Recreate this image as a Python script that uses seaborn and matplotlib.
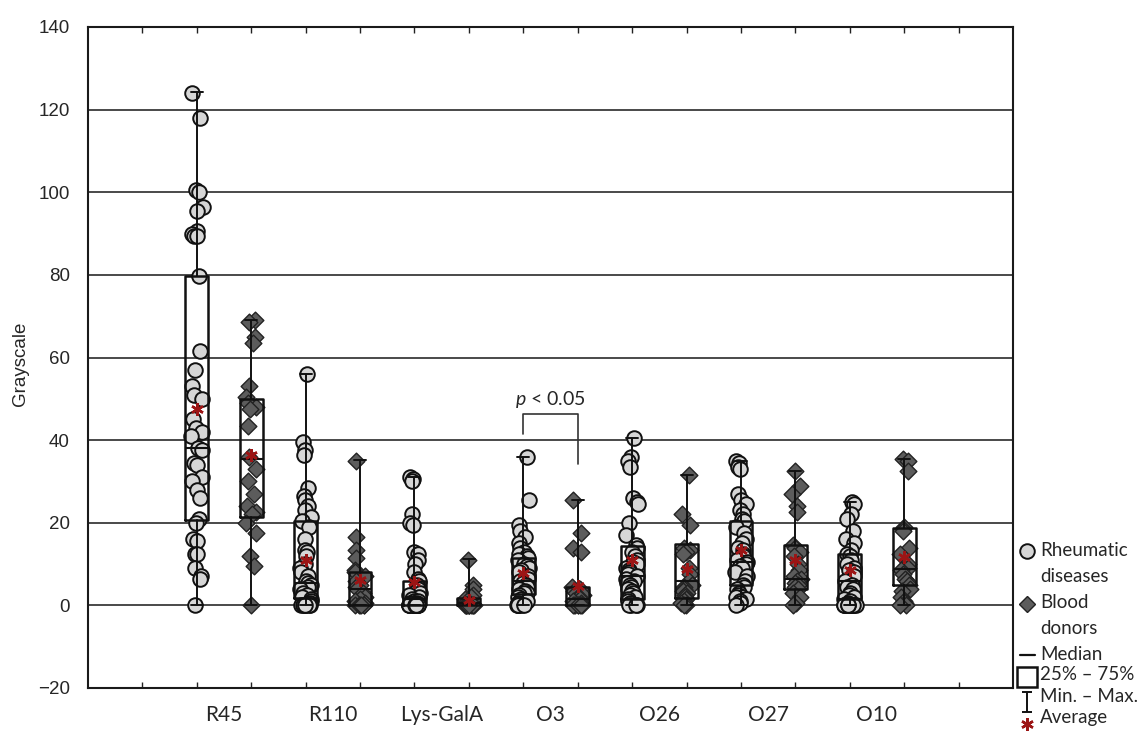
import numpy as np
import pandas as pd
import matplotlib
matplotlib.use("Agg")
import matplotlib.pyplot as plt
import seaborn as sns
from matplotlib.lines import Line2D
from matplotlib.path import Path

# antigens (one pair of boxes per antigen)
groups = ["R45", "R110", "Lys-GalA", "O3", "O26", "O27", "O10"]

# individual values, rheumatic diseases (rd) and blood donors (bd)
r45_rd = [124, 118, 100.5, 100, 96.5, 95.5, 90.5, 90, 89.5, 89.5, 79.8, 61.5, 57, 53, 51, 50, 45, 43, 42,
          41, 38, 37.5, 34.5, 34, 31, 30, 28, 26, 21, 20, 16, 15.5, 12.5, 12.5, 9, 7, 6.5, 0]
r45_bd = [69, 68.5, 65, 63.5, 53, 50.5, 49, 48, 47.5, 43.5, 36, 33, 30, 27, 24, 22.5, 22, 20, 17.5, 12, 9.5, 0]
r110_rd = [56, 39.5, 37.5, 36.5, 28.5, 26.5, 25.5, 24, 23, 21.5, 20.5, 19, 16, 13.5, 13, 12, 10, 9, 8, 7, 6,
           5.5, 5, 4.5, 4, 3, 2.5, 2, 1.5, 1, 0.5, 0, 0, 0, 0, 0, 0, 0]
r110_bd = [35, 16.5, 13.5, 11.5, 8.5, 8, 7, 6, 5, 4.5, 4, 3, 2, 1.5, 1, 0.5, 0, 0, 0, 0, 0, 0]
lys_rd = [31, 30.5, 30, 22, 20, 19.5, 13, 12.5, 11, 10, 8, 6.5, 6, 5, 4, 3, 2.5, 2, 1.5, 1, 1, 0.5, 0.5,
          0, 0, 0, 0, 0, 0, 0, 0, 0, 0, 0, 0, 0, 0, 0]
lys_bd = [11, 5, 4, 2.5, 2, 1.5, 1, 0.5, 0, 0, 0, 0, 0, 0, 0, 0, 0, 0, 0, 0, 0, 0]
o3_rd = [36, 25.5, 19.5, 18, 16.5, 15, 14, 13, 12.5, 12, 11.5, 11, 10, 9.5, 9, 8.5, 8, 7, 6.5, 6, 5.5, 5,
         4.5, 4, 3.5, 3, 3, 2.5, 2, 1.5, 1, 0.5, 0, 0, 0, 0, 0, 0]
o3_bd = [25.5, 17.5, 14, 13, 4.5, 4, 3.5, 3, 2.5, 2, 2, 1.5, 1, 0.5, 0, 0, 0, 0, 0, 0, 0, 0]
o26_rd = [40.5, 36, 35, 33.5, 26, 25, 24.5, 20, 17, 14.5, 14, 13, 12, 11, 10.5, 10, 9, 8.5, 8, 7.5, 7, 6.5,
          6, 5.5, 5, 4.5, 4, 3.5, 3, 2.5, 2, 1.5, 1, 0.5, 0, 0, 0, 0]
o26_bd = [31.5, 22, 19.5, 14, 13.5, 13, 12.5, 9, 7.5, 6, 5, 4.5, 4, 3.5, 3, 2.5, 2, 1.5, 1, 0.5, 0, 0]
o27_rd = [35, 34.5, 33.5, 33, 27, 25.5, 24.5, 23, 22, 21, 20.5, 19, 17.5, 16, 15, 14, 13.5, 12.5, 12, 11,
          10.5, 10, 9.5, 9, 8, 7, 6, 5, 4.5, 4, 3, 2.5, 2, 2, 1.5, 1, 0.5, 0]
o27_bd = [32.5, 29, 27, 24, 22.5, 14.5, 14, 13, 12, 10, 8.5, 7, 6.5, 6, 5.5, 5, 4.5, 4, 3, 2, 0.5, 0]
o10_rd = [25, 24.5, 22, 21, 18, 16, 15, 13.5, 12.5, 12, 11, 10, 9, 8.5, 8, 7, 6, 5, 4.5, 4, 3, 2.5, 2, 1.5,
          1, 0.5, 0, 0, 0, 0, 0, 0, 0, 0, 0, 0, 0, 0]
o10_bd = [35.5, 35, 32.5, 19, 18.5, 18, 14, 12.5, 10, 9, 8.5, 7.5, 6.5, 6, 5, 4, 3.5, 2, 1, 0.5, 0, 0]

rd_points = [r45_rd, r110_rd, lys_rd, o3_rd, o26_rd, o27_rd, o10_rd]
bd_points = [r45_bd, r110_bd, lys_bd, o3_bd, o26_bd, o27_bd, o10_bd]

# box summaries
rd_q1 = [20.7, 1.8, 0.0, 2.8, 1.5, 5.0, 1.5]
rd_med = [38.0, 5.5, 1.5, 6.0, 7.0, 10.5, 6.0]
rd_q3 = [79.8, 20.5, 6.0, 11.5, 14.3, 20.5, 12.5]
rd_min = [0, 0, 0, 0, 0, 0, 0]
rd_max = [124.3, 56.0, 31.0, 36.0, 40.5, 35.0, 25.0]
rd_mean = [47.5, 10.9, 5.7, 7.9, 10.9, 13.4, 8.5]

bd_q1 = [21.5, 0.0, 0.0, 0.0, 1.7, 4.0, 5.0]
bd_med = [35.5, 4.0, 0.5, 1.5, 6.0, 6.5, 8.7]
bd_q3 = [50.0, 8.0, 1.8, 4.5, 14.8, 14.5, 18.7]
bd_min = [0, 0, 0, 0, 0, 0, 0]
bd_max = [69.0, 35.2, 11.2, 25.5, 31.5, 32.5, 35.5]
bd_mean = [36.5, 6.2, 1.4, 4.6, 8.9, 10.9, 11.7]

sns.set_style("white")
plt.rcParams["font.family"] = ["Lato", "DejaVu Sans"]
plt.rcParams["mathtext.fontset"] = "custom"
plt.rcParams["mathtext.it"] = "Lato:italic"
plt.rcParams["mathtext.rm"] = "Lato"

np.random.seed(7)

W, H = 1145, 740
fig = plt.figure(figsize=(W / 100, H / 100), dpi=100)
ax = fig.add_axes([88 / W, 1 - 688 / H, (1013 - 88) / W, (688 - 27) / H])

rd_pos = [2 + 2 * i for i in range(len(groups))]
bd_pos = [3 + 2 * i for i in range(len(groups))]

rd_df = pd.DataFrame({"pos": np.repeat(rd_pos, [len(v) for v in rd_points]),
                      "value": np.concatenate(rd_points)})
bd_df = pd.DataFrame({"pos": np.repeat(bd_pos, [len(v) for v in bd_points]),
                      "value": np.concatenate(bd_points)})

sns.stripplot(data=rd_df, x="pos", y="value", native_scale=True, jitter=0.055, marker="o",
              size=10.5, color="#d6d6d6", edgecolor="#111111", linewidth=1.4, ax=ax, zorder=1)
sns.stripplot(data=bd_df, x="pos", y="value", native_scale=True, jitter=0.05, marker="D",
              size=8.5, color="#5c5c5c", edgecolor="#222222", linewidth=1.0, ax=ax, zorder=1)


def box_stats(q1, med, q3, lo, hi, mean):
    return [dict(q1=a, med=b, q3=c, whislo=d, whishi=e, mean=f, fliers=[])
            for a, b, c, d, e, f in zip(q1, med, q3, lo, hi, mean)]


line_kw = dict(color="#111111")
for st, pos in [(box_stats(rd_q1, rd_med, rd_q3, rd_min, rd_max, rd_mean), rd_pos),
                (box_stats(bd_q1, bd_med, bd_q3, bd_min, bd_max, bd_mean), bd_pos)]:
    ax.bxp(st, positions=pos, widths=0.42, capwidths=0.22, showmeans=True, showfliers=False,
           manage_ticks=False,
           boxprops=dict(lw=1.8, **line_kw), whiskerprops=dict(lw=1.4, **line_kw),
           capprops=dict(lw=1.4, **line_kw), medianprops=dict(lw=1.5, **line_kw),
           meanprops=dict(marker=(6, 2, 0), markersize=9, markeredgecolor="#9c1515",
                          markerfacecolor="#9c1515", markeredgewidth=1.8, zorder=5))

# significance bracket between O3 groups
ax.plot([rd_pos[3], rd_pos[3], bd_pos[3], bd_pos[3]], [41.5, 46.4, 46.4, 34.2],
        color="#333333", lw=1.2)
ax.text((rd_pos[3] + bd_pos[3]) / 2, 49.8, r"$p$ < 0.05", ha="center", va="center", fontsize=14)

ax.set_xlim(0, 17)
ax.set_ylim(-20, 140)
ax.set_yticks(np.arange(-20, 141, 20))
ax.set_yticklabels([f"{v:d}".replace("-", "\u2212") for v in range(-20, 141, 20)],
                   family="Liberation Sans", fontsize=13.5)
ax.set_xticks([p + 0.5 for p in rd_pos])
ax.set_xticklabels(groups, fontsize=15)
ax.set_xticks(np.arange(1, 17), minor=True)
ax.tick_params(axis="both", which="major", length=0)
ax.tick_params(axis="y", pad=13)
ax.tick_params(axis="x", pad=12)
ax.tick_params(axis="x", which="minor", direction="in", length=4, width=1, top=True, bottom=True,
               color="#222222")
ax.set_xlabel("")
ax.set_ylabel("Grayscale", family="Liberation Sans", fontsize=13.5)
ax.yaxis.set_label_coords(-0.064, 0.49)
ax.yaxis.grid(True, color="#2a2a2a", lw=1.2)
ax.set_axisbelow(True)
for s in ax.spines.values():
    s.set_visible(True)
    s.set_color("#1a1a1a")
    s.set_linewidth(1.5)


# legend at the lower right, outside the plot area
def fx(px):
    return px / W


def fy(py):
    return 1 - py / H


ibeam = Path([(-0.5, 1), (0.5, 1), (0, 1), (0, -1), (-0.5, -1), (0.5, -1)],
             [Path.MOVETO, Path.LINETO, Path.MOVETO, Path.LINETO, Path.MOVETO, Path.LINETO])
handles = [
    (551, dict(marker="o", markersize=10.5, markerfacecolor="#d6d6d6", markeredgecolor="#111111",
               markeredgewidth=1.4)),
    (604, dict(marker="D", markersize=8.5, markerfacecolor="#5c5c5c", markeredgecolor="#222222",
               markeredgewidth=1.0)),
    (677, dict(marker="s", markersize=14, markerfacecolor="none", markeredgecolor="#111111",
               markeredgewidth=1.8)),
    (702, dict(marker=ibeam, markersize=14, markeredgecolor="#111111", markeredgewidth=1.4)),
    (724, dict(marker=(6, 2, 0), markersize=9, markeredgecolor="#9c1515", markeredgewidth=1.8)),
]
for py, kw in handles:
    fig.add_artist(Line2D([fx(1027)], [fy(py)], transform=fig.transFigure, linestyle="none", **kw))
fig.add_artist(Line2D([fx(1020), fx(1035)], [fy(655), fy(655)], transform=fig.transFigure,
                      color="#111111", lw=1.6))

labels = [(551, "Rheumatic"), (576, "diseases"), (603, "Blood"), (628, "donors"), (654, "Median"),
          (675, "25% \u2013 75%"), (696, "Min. \u2013 Max."), (718, "Average")]
for py, s in labels:
    fig.text(fx(1040), fy(py), s, ha="left", va="center", fontsize=13.5)

fig.savefig("out.png", dpi=100, facecolor="white")
